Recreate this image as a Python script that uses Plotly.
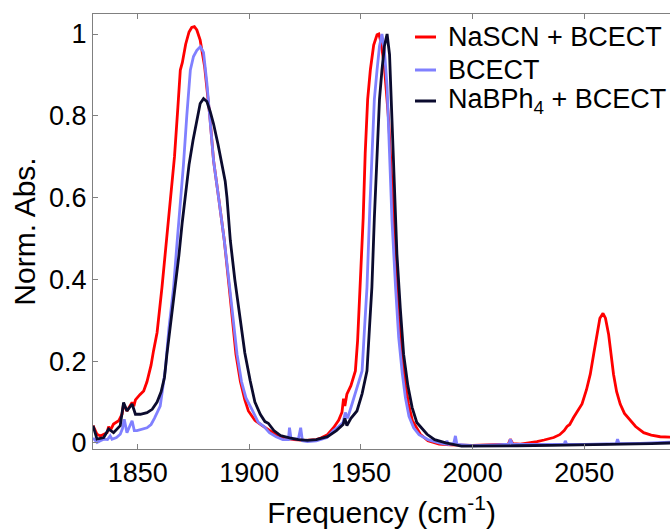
import plotly.graph_objects as go

# NaSCN + BCECT (red)
red_x = [1830, 1831.8, 1833.3, 1835, 1836.3, 1837, 1837.7, 1839.2, 1841.5, 1843.0, 1843.7, 1845.2,
         1847.5, 1848.3, 1849, 1851, 1852.7, 1854.2, 1856, 1857.1, 1858.7, 1860.9, 1862.5, 1864.6,
         1866.5, 1868, 1869.1, 1870, 1871.5, 1873, 1874.2, 1875.4, 1876.5, 1878, 1880, 1882.3, 1884, 1886.5,
         1888.8, 1891, 1894, 1896, 1898, 1899.6, 1902.5, 1905.8, 1909, 1912, 1915, 1920, 1925, 1930,
         1932, 1935, 1937.7, 1940, 1941.5, 1942.2, 1942.8, 1943.7, 1945.5, 1947.5, 1948.5, 1949.7,
         1951, 1951.9, 1953, 1954.2, 1955.7, 1957.2, 1958, 1959, 1960.5, 1962.4, 1964, 1965.4, 1967,
         1968.4, 1970, 1971.3, 1973, 1976.6, 1980, 1985, 1990, 2000, 2010, 2016, 2016.9, 2018, 2021.4,
         2025.8, 2028.8, 2032, 2036.3, 2039, 2041, 2042.3, 2043.5, 2045.2, 2047, 2049, 2051, 2052.7,
         2054.3, 2055.7, 2057, 2058.4, 2059.5, 2060.9, 2062, 2063.1, 2064.5, 2066.1, 2068, 2070.6,
         2073, 2076.6, 2080, 2084, 2090]
red_y = [0.042, 0.021, 0.017, 0.022, 0.025, 0.040, 0.030, 0.046, 0.054, 0.070, 0.095, 0.078,
         0.099, 0.090, 0.105, 0.118, 0.127, 0.150, 0.190, 0.225, 0.270, 0.381, 0.470, 0.577,
         0.700, 0.820, 0.912, 0.930, 0.975, 1.005, 1.016, 1.018, 1.010, 0.985, 0.920, 0.800, 0.690, 0.590,
         0.495, 0.380, 0.217, 0.150, 0.105, 0.078, 0.055, 0.042, 0.030, 0.020, 0.012, 0.008, 0.006, 0.008,
         0.012, 0.020, 0.037, 0.055, 0.075, 0.108, 0.090, 0.119, 0.140, 0.176, 0.250, 0.381,
         0.550, 0.708, 0.840, 0.912, 0.973, 0.998, 1.000, 0.980, 0.920, 0.789, 0.620, 0.462, 0.310,
         0.217, 0.140, 0.095, 0.055, 0.021, 0.005, -0.003, -0.005, -0.006, -0.005, -0.003, 0.009, -0.002, -0.003,
         0.000, 0.003, 0.007, 0.013, 0.020, 0.030, 0.040, 0.045, 0.062, 0.078, 0.095, 0.130, 0.168,
         0.220, 0.266, 0.305, 0.317, 0.305, 0.266, 0.215, 0.168, 0.125, 0.095, 0.072, 0.054,
         0.040, 0.025, 0.019, 0.015, 0.014]

# BCECT (light blue)
blue_x = [1830, 1831.8, 1833.3, 1834.8, 1836.5, 1837.7, 1838.5, 1840.5, 1842.2, 1843.2, 1844.0, 1845.2,
          1847.5, 1848.5, 1849.7, 1852, 1854.2, 1856, 1857.5, 1860.1, 1862.4, 1864, 1866.1, 1867.5,
          1869.1, 1870.5, 1872, 1873.6, 1875, 1876.5, 1878.1, 1879.5, 1881, 1882.3, 1884, 1886.5,
          1888.8, 1891, 1894.5, 1896.5, 1898.5, 1901.5, 1904, 1906.6, 1909, 1912, 1915, 1917.5, 1918,
          1918.7, 1922, 1923, 1923.8, 1926, 1930, 1934.8, 1937.7, 1940, 1942, 1943, 1944, 1946, 1948,
          1950.5, 1951.6, 1952.7, 1954, 1954.9, 1956, 1957.2, 1958.3, 1959.4, 1960.5, 1961.7, 1963,
          1963.9, 1965.5, 1966.9, 1968.5, 1969.9, 1971.5, 1973.6, 1976, 1980, 1985, 1988, 1988.5,
          1989.2, 1991.5, 1992.3, 1993, 2000, 2010, 2016.3, 2016.9, 2017.8, 2025, 2035, 2041, 2041.5,
          2042.2, 2050, 2060, 2064.3, 2064.9, 2065.6, 2075, 2090]
blue_y = [0.012, 0.001, 0.005, 0.009, 0.008, 0.017, 0.009, 0.013, 0.021, 0.035, 0.058, 0.025,
          0.054, 0.030, 0.030, 0.033, 0.037, 0.045, 0.060, 0.090, 0.180, 0.280, 0.381, 0.480,
          0.577, 0.680, 0.800, 0.912, 0.945, 0.960, 0.969, 0.955, 0.880, 0.789, 0.690, 0.590,
          0.495, 0.390, 0.217, 0.150, 0.110, 0.078, 0.050, 0.040, 0.025, 0.015, 0.008, 0.008, 0.037,
          0.010, 0.010, 0.037, 0.005, 0.003, 0.005, 0.013, 0.030, 0.040, 0.050, 0.074, 0.060, 0.095, 0.130,
          0.176, 0.280, 0.381, 0.580, 0.708, 0.840, 0.912, 0.970, 1.000, 0.960, 0.871, 0.700,
          0.544, 0.380, 0.258, 0.170, 0.111, 0.065, 0.037, 0.020, 0.008, 0.000, -0.003, 0.005,
          -0.004, -0.002, 0.017, -0.004, -0.007, -0.005, -0.003, 0.009, -0.003, -0.004, -0.004, -0.004, 0.005,
          -0.004, -0.004, -0.003, -0.002, 0.009, -0.002, -0.001, 0.002]

# NaBPh4 + BCECT (dark navy)
navy_x = [1830, 1831.8, 1834.8, 1837, 1839.2, 1842.2, 1843.7, 1845.2, 1847.5, 1849, 1851.2, 1854.2,
          1856.5, 1858.7, 1860.5, 1862, 1863.1, 1865, 1866.9, 1868.5, 1869.9, 1871.5, 1873, 1874.8,
          1876.6, 1878, 1879.5, 1881, 1882.5, 1884, 1886, 1887.5, 1889.2, 1890, 1891.5, 1893.5, 1896,
          1898, 1900.4, 1902.5, 1904.9, 1907, 1908.5, 1909.4, 1911, 1914, 1918, 1922, 1926, 1930, 1935,
          1939, 1942, 1942.8, 1943.7, 1945.5, 1948.2, 1950.5, 1952.7, 1953.8, 1954.9, 1956, 1957.2,
          1958.3, 1959.4, 1960.5, 1961.7, 1962.8, 1963.9, 1965, 1966.1, 1967.6, 1969.1, 1971, 1972.9,
          1975, 1979.6, 1983, 1988, 1995, 2005, 2020, 2035, 2050, 2065, 2080, 2090]
navy_y = [0.042, 0.009, 0.013, 0.034, 0.025, 0.042, 0.099, 0.078, 0.095, 0.070, 0.070, 0.074,
          0.082, 0.100, 0.125, 0.160, 0.217, 0.300, 0.381, 0.460, 0.536, 0.610, 0.680, 0.740,
          0.789, 0.830, 0.842, 0.835, 0.810, 0.780, 0.730, 0.690, 0.640, 0.600, 0.495, 0.400, 0.299,
          0.220, 0.152, 0.100, 0.070, 0.052, 0.048, 0.042, 0.030, 0.018, 0.012, 0.008, 0.006, 0.008, 0.015,
          0.030, 0.045, 0.060, 0.042, 0.060, 0.078, 0.120, 0.176, 0.280, 0.381, 0.550, 0.708,
          0.840, 0.912, 0.970, 1.000, 0.950, 0.789, 0.620, 0.462, 0.330, 0.217, 0.140, 0.087,
          0.050, 0.021, 0.008, 0.000, -0.008, -0.008, -0.007, -0.006, -0.005, -0.004, -0.002, 0.000]

series_names = ["NaSCN + BCECT", "BCECT", "NaBPh<sub>4</sub> + BCECT"]
series_colors = ["#ff0000", "#8080ff", "#0b0b2e"]

x_ticks = [1850, 1900, 1950, 2000, 2050]
y_ticks = [0, 0.2, 0.4, 0.6, 0.8, 1]
y_tick_labels = ["0", "0.2", "0.4", "0.6", "0.8", "1"]

FONT = "Liberation Sans, Arial, Helvetica, sans-serif"

fig = go.Figure()
for xs, ys, name, col in zip([red_x, blue_x, navy_x], [red_y, blue_y, navy_y], series_names, series_colors):
    fig.add_trace(go.Scatter(x=xs, y=ys, mode="lines", name=name, showlegend=False,
                             line=dict(color=col, width=2.8)))

# legend drawn as line samples + text labels (top right)
PLOT_L, PLOT_R, PLOT_T, PLOT_B = 93, 670, 14, 449
def px_x(p):
    return (p - PLOT_L) / (PLOT_R - PLOT_L)
def px_y(p):
    return (PLOT_B - p) / (PLOT_B - PLOT_T)

legend_rows = [37, 70, 101]
for name, col, row in zip(series_names, series_colors, legend_rows):
    fig.add_shape(type="line", xref="paper", yref="paper",
                  x0=px_x(415), x1=px_x(436), y0=px_y(row), y1=px_y(row),
                  line=dict(color=col, width=3))
    fig.add_annotation(xref="paper", yref="paper", x=px_x(446), y=px_y(row),
                       xanchor="left", yanchor="middle", showarrow=False, text=name,
                       font=dict(size=27, family=FONT, color="black"))

fig.update_layout(
    width=670, height=532,
    margin=dict(l=PLOT_L, r=0, t=PLOT_T, b=532 - PLOT_B),
    paper_bgcolor="white", plot_bgcolor="white",
    font=dict(family=FONT, color="black"),
    showlegend=False,
)
fig.update_xaxes(range=[1830, 2088.4], tickvals=x_ticks, ticks="inside", ticklen=5,
                 tickcolor="#808080", showline=True, linecolor="#808080", linewidth=1,
                 mirror="ticks", showgrid=False, zeroline=False,
                 tickfont=dict(size=27, family=FONT, color="black"),
                 title=dict(text="Frequency (cm<sup>-1</sup>)", font=dict(size=30, family=FONT, color="black"),
                            standoff=14))
fig.update_yaxes(range=[-0.015, 1.049], tickvals=y_ticks, ticktext=y_tick_labels, ticks="inside",
                 ticklen=5, tickcolor="#808080", showline=True, linecolor="#808080", linewidth=1,
                 mirror=False, showgrid=False, zeroline=False,
                 tickfont=dict(size=27, family=FONT, color="black"),
                 title=dict(text="Norm. Abs.", font=dict(size=30, family=FONT, color="black"),
                            standoff=4))

fig.write_html("out.html")
